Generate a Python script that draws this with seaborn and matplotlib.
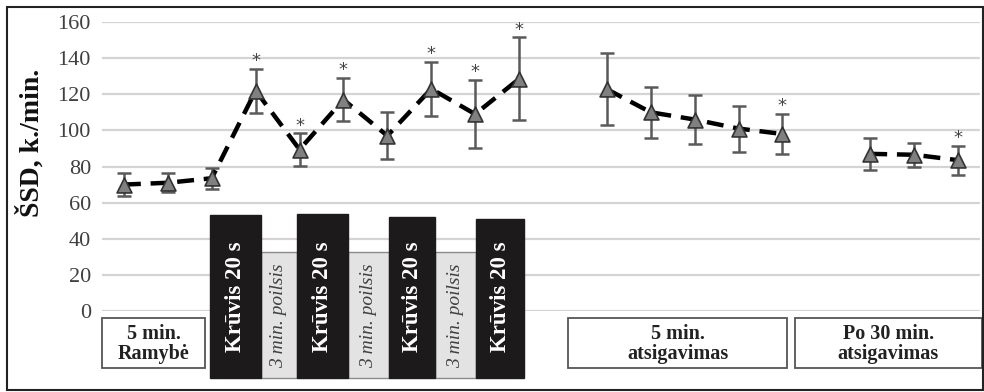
import numpy as np
import pandas as pd
import matplotlib
matplotlib.use("Agg")
import matplotlib.pyplot as plt
from matplotlib.patches import Rectangle
import seaborn as sns

# ---- data ----
slots = list(range(20))
hr_mean = [70, 71, 73.5, 122, 89.4, 117, 97, 123, 109, 128.5,
           np.nan, 122.8, 110, 106, 101, 98,
           np.nan, 87, 86.5, 83.5]
hr_sd = [6.3, 5.2, 5.7, 12.2, 8.9, 12, 13, 15, 19, 23,
         np.nan, 19.8, 14, 13.5, 12.7, 11.1,
         np.nan, 9, 6.5, 8]
segment = [0]*10 + [1]*6 + [2]*4
significant = [False, False, False, True, True, True, False, True, True, True,
               False, False, False, False, False, True,
               False, False, False, True]
y_ticks = [0, 20, 40, 60, 80, 100, 120, 140, 160]
y_label = "ŠSD, k./min."
load_label = "Krūvis 20 s"
rest_label = "3 min. poilsis"
phase_labels = ["5 min.\nRamybė", "5 min.\natsigavimas", "Po 30 min.\natsigavimas"]

df = pd.DataFrame({"slot": slots, "hr": hr_mean, "sd": hr_sd, "seg": segment,
                   "sig": significant})
dfv = df.dropna()

sns.set_theme(style="white")
plt.rcParams["font.family"] = ["Liberation Serif", "DejaVu Serif"]

W, H = 984, 392
fig = plt.figure(figsize=(W / 100, H / 100), dpi=100)
ax = fig.add_axes([102 / W, (H - 311) / H, (980 - 102) / W, (311 - 22) / H])

# gridlines
ax.set_ylim(0, 160)
ax.set_xlim(-0.5, 19.5)
ax.set_yticks(y_ticks)
ax.yaxis.grid(True, color="#d4d4d4", linewidth=1.6)
ax.set_axisbelow(True)
ax.set_xticks([])
for s in ax.spines.values():
    s.set_visible(False)
ax.tick_params(axis="y", length=0, pad=8, labelsize=16, labelcolor="#404040")

# error bars
ax.errorbar(dfv["slot"], dfv["hr"], yerr=dfv["sd"], fmt="none",
            ecolor="#5a5a5a", elinewidth=1.8, capsize=5, capthick=1.8, zorder=3)

# dashed line (one run per segment)
sns.lineplot(data=dfv, x="slot", y="hr", units="seg", estimator=None,
             color="black", linewidth=3.2, ax=ax, legend=False, zorder=4,
             linestyle=(0, (3.8, 2.2)), dash_capstyle="butt")

# triangle markers
sns.scatterplot(data=dfv, x="slot", y="hr", marker="^", s=115,
                color="#808080", edgecolor="#333333", linewidth=1.2,
                ax=ax, legend=False, zorder=5)

# asterisks
for _, r in dfv[dfv["sig"]].iterrows():
    ax.annotate("*", (r["slot"], r["hr"] + r["sd"]), xytext=(0, -1),
                textcoords="offset points", ha="center", va="bottom",
                fontsize=13, color="#444444", family="DejaVu Sans")

ax.set_xlabel("")
ax.set_ylabel("")


# ---- annotation shapes below the axis, in pixel coords ----
def fx(x):
    return x / W


def fy(y):
    return (H - y) / H


def rect(x0, y0, x1, y1, **kw):
    fig.patches.append(Rectangle((fx(x0), fy(y1)), fx(x1) - fx(x0), fy(y0) - fy(y1),
                                 transform=fig.transFigure, figure=fig, **kw))


fig.text(fx(31), fy(143), y_label, rotation=90, ha="center", va="center",
         fontsize=20, fontweight="bold", color="#111111")

loads = [(210, 215, 261), (297, 214, 348), (389, 217, 435), (476, 219, 524)]
rests = [(261, 297), (348, 389), (435, 476)]
for x0, x1 in rests:
    rect(x0, 252, x1, 378, facecolor="#e3e3e3", edgecolor="#8a8a8a", linewidth=1, zorder=6)
    fig.text(fx((x0 + x1) / 2), fy(316), rest_label, rotation=90, ha="center",
             va="center", fontsize=14, style="italic", color="#404040", zorder=7)
for x0, y0, x1 in loads:
    rect(x0, y0, x1, 378, facecolor="#1c1a1a", edgecolor="#1c1a1a", linewidth=1, zorder=6)
    fig.text(fx((x0 + x1) / 2), fy(297), load_label, rotation=90, ha="center",
             va="center", fontsize=16.5, fontweight="bold", color="white", zorder=7)

boxes = [(102, 205), (568, 787), (795, 982)]
for (x0, x1), lab in zip(boxes, phase_labels):
    rect(x0, 318, x1, 368, facecolor="white", edgecolor="#555555", linewidth=1.3, zorder=6)
    fig.text(fx((x0 + x1) / 2), fy(344), lab, ha="center", va="center",
             fontsize=14.5, fontweight="bold", color="#222222", linespacing=1.05, zorder=7)

# outer frame
rect(7, 7, 983, 390, facecolor="none", edgecolor="#222222", linewidth=1.5, zorder=8)

fig.savefig("out.png", dpi=100)
